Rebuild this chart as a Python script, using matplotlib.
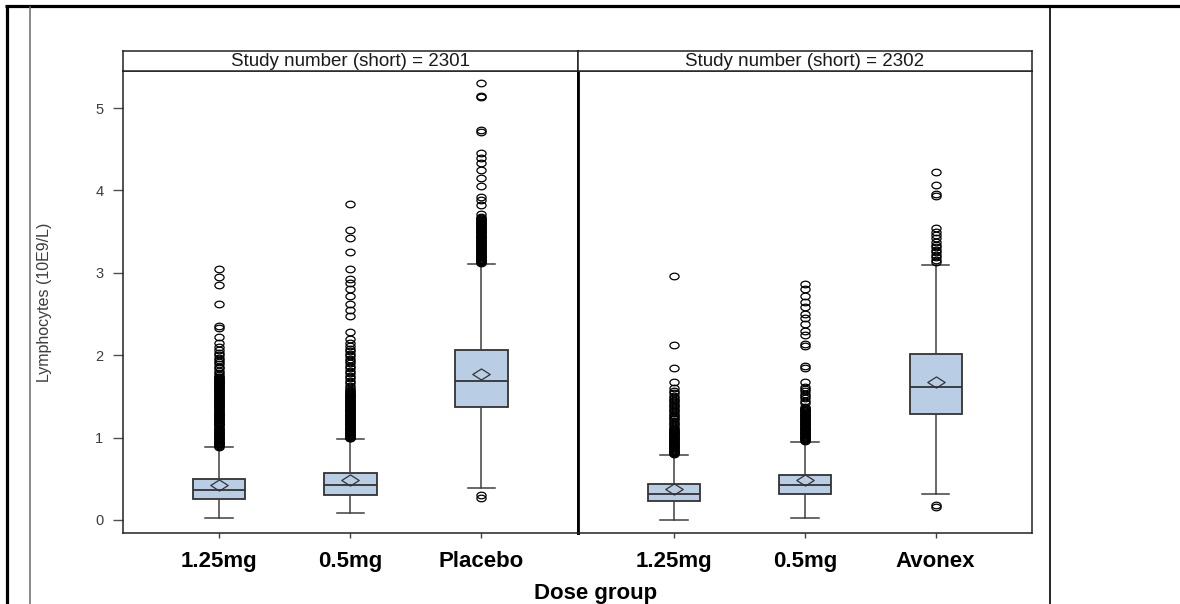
import matplotlib
matplotlib.use("Agg")
import matplotlib.pyplot as plt
from matplotlib.path import Path
from matplotlib.lines import Line2D
import numpy as np

plt.rcParams["font.family"] = ["Liberation Sans", "DejaVu Sans"]

# ---- data -------------------------------------------------------------
study_labels = ["Study number (short) = 2301", "Study number (short) = 2302"]
groups_2301 = ["1.25mg", "0.5mg", "Placebo"]
groups_2302 = ["1.25mg", "0.5mg", "Avonex"]

q1_2301 = [0.25, 0.30, 1.37]
med_2301 = [0.36, 0.42, 1.69]
q3_2301 = [0.50, 0.57, 2.06]
mean_2301 = [0.43, 0.48, 1.77]
whislo_2301 = [0.02, 0.08, 0.39]
whishi_2301 = [0.88, 0.98, 3.11]

q1_2302 = [0.23, 0.31, 1.29]
med_2302 = [0.32, 0.42, 1.62]
q3_2302 = [0.44, 0.55, 2.01]
mean_2302 = [0.38, 0.48, 1.67]
whislo_2302 = [0.00, 0.03, 0.32]
whishi_2302 = [0.79, 0.95, 3.09]

fliers_2301_125 = [
    3.05, 2.95, 2.85, 2.62, 2.35, 2.33, 2.22, 2.15, 2.10, 2.06,
    2.03, 2.00, 1.97, 1.94, 1.92, 1.89, 1.86, 1.84, 1.81, 1.78,
    1.76, 1.74, 1.73, 1.72, 1.71, 1.70, 1.69, 1.68, 1.67, 1.66,
    1.65, 1.64, 1.63, 1.62, 1.61, 1.60, 1.59, 1.58, 1.57, 1.56,
    1.55, 1.54, 1.53, 1.52, 1.51, 1.50, 1.49, 1.48, 1.47, 1.46,
    1.45, 1.44, 1.43, 1.42, 1.41, 1.40, 1.39, 1.38, 1.37, 1.36,
    1.35, 1.34, 1.32, 1.31, 1.30, 1.29, 1.28, 1.27, 1.26, 1.25,
    1.24, 1.23, 1.22, 1.21, 1.20, 1.19, 1.18, 1.17, 1.16, 1.15,
    1.14, 1.12, 1.11, 1.10, 1.09, 1.08, 1.07, 1.06, 1.05, 1.04,
    1.03, 1.02, 1.01, 1.00, 0.99, 0.98, 0.97, 0.96, 0.95, 0.94,
    0.93, 0.92, 0.91, 0.90, 0.89]
fliers_2301_05 = [
    3.83, 3.52, 3.42, 3.25, 3.05, 2.92, 2.88, 2.80, 2.72, 2.62,
    2.55, 2.48, 2.28, 2.20, 2.15, 2.11, 2.08, 2.05, 2.02, 1.99,
    1.96, 1.93, 1.90, 1.87, 1.84, 1.81, 1.78, 1.75, 1.72, 1.69,
    1.66, 1.63, 1.60, 1.58, 1.56, 1.55, 1.54, 1.53, 1.52, 1.51,
    1.50, 1.49, 1.48, 1.47, 1.46, 1.45, 1.44, 1.43, 1.42, 1.41,
    1.40, 1.39, 1.38, 1.37, 1.36, 1.35, 1.34, 1.33, 1.32, 1.31,
    1.30, 1.29, 1.28, 1.27, 1.26, 1.25, 1.24, 1.23, 1.22, 1.21,
    1.20, 1.19, 1.18, 1.17, 1.16, 1.15, 1.14, 1.13, 1.12, 1.11,
    1.10, 1.09, 1.08, 1.07, 1.06, 1.05, 1.04, 1.03, 1.02, 1.01,
    1.00, 0.99]
fliers_2301_pbo = [
    5.31, 5.15, 5.13, 4.73, 4.71, 4.45, 4.39, 4.33, 4.25, 4.15,
    4.05, 3.92, 3.88, 3.82, 3.72, 3.68, 3.66, 3.65, 3.64, 3.63,
    3.62, 3.61, 3.60, 3.59, 3.58, 3.57, 3.56, 3.55, 3.54, 3.53,
    3.52, 3.51, 3.50, 3.49, 3.48, 3.47, 3.46, 3.45, 3.44, 3.43,
    3.42, 3.41, 3.40, 3.39, 3.38, 3.37, 3.36, 3.35, 3.34, 3.33,
    3.32, 3.31, 3.30, 3.29, 3.28, 3.27, 3.26, 3.25, 3.24, 3.23,
    3.22, 3.21, 3.20, 3.19, 3.18, 3.17, 3.16, 3.15, 3.14, 3.13,
    3.12, 0.30, 0.27]
fliers_2302_125 = [
    2.96, 2.12, 1.85, 1.67, 1.60, 1.57, 1.54, 1.51, 1.48, 1.46,
    1.44, 1.42, 1.40, 1.38, 1.36, 1.34, 1.32, 1.30, 1.28, 1.26,
    1.24, 1.22, 1.20, 1.18, 1.16, 1.14, 1.12, 1.10, 1.09, 1.08,
    1.07, 1.06, 1.05, 1.04, 1.03, 1.02, 1.01, 1.00, 0.99, 0.98,
    0.97, 0.96, 0.95, 0.94, 0.93, 0.92, 0.91, 0.90, 0.89, 0.88,
    0.87, 0.86, 0.85, 0.84, 0.83, 0.82, 0.81, 0.80]
fliers_2302_05 = [
    2.87, 2.80, 2.72, 2.65, 2.58, 2.50, 2.45, 2.38, 2.30, 2.25,
    2.14, 2.11, 1.87, 1.84, 1.67, 1.62, 1.59, 1.56, 1.53, 1.50,
    1.48, 1.45, 1.42, 1.37, 1.36, 1.35, 1.34, 1.33, 1.32, 1.31,
    1.30, 1.29, 1.28, 1.27, 1.26, 1.25, 1.24, 1.23, 1.22, 1.21,
    1.20, 1.19, 1.18, 1.17, 1.16, 1.15, 1.14, 1.13, 1.12, 1.11,
    1.10, 1.09, 1.08, 1.07, 1.06, 1.05, 1.04, 1.03, 1.02, 1.01,
    1.00, 0.99, 0.98, 0.97, 0.96]
fliers_2302_avx = [
    4.22, 4.07, 3.96, 3.93, 3.54, 3.50, 3.46, 3.42, 3.38, 3.34,
    3.31, 3.28, 3.25, 3.22, 3.19, 3.16, 3.13, 0.18, 0.16]

yticks = [0, 1, 2, 3, 4, 5]

# ---- layout helpers ---------------------------------------------------
W, H = 1180, 604
fig = plt.figure(figsize=(W / 100, H / 100), dpi=100)
fig.patch.set_facecolor("white")


def px_axes(x0, y0, x1, y1):
    return fig.add_axes([x0 / W, 1 - y1 / H, (x1 - x0) / W, (y1 - y0) / H])


def px_line(xs, ys, **kw):
    fig.add_artist(Line2D([x / W for x in xs], [1 - y / H for y in ys],
                          transform=fig.transFigure, **kw))


# page frame lines
px_line([5, 1180], [6, 6], color="black", linewidth=2.3, solid_capstyle="butt")
px_line([6.5, 6.5], [5, 604], color="black", linewidth=2.3, solid_capstyle="butt")
px_line([30, 30], [7, 604], color="#6a6a6a", linewidth=1.1)
px_line([1050, 1050], [7, 604], color="black", linewidth=1.2)

# marker shapes
t = np.linspace(0, 2 * np.pi, 41)
oval = Path(np.column_stack([np.cos(t), 0.72 * np.sin(t)]), closed=True)
flat_diamond = Path([(-1, 0), (0, 0.64), (1, 0), (0, -0.64), (-1, 0)], closed=True)

box_fill = "#B9CDE5"
edge = "#333333"


def make_stats(q1, med, q3, mean, lo, hi, fliers):
    return [dict(q1=a, med=b, q3=c, mean=d, whislo=e, whishi=f, fliers=g)
            for a, b, c, d, e, f, g in zip(q1, med, q3, mean, lo, hi, fliers)]


panels = [
    (123, 578, groups_2301,
     make_stats(q1_2301, med_2301, q3_2301, mean_2301, whislo_2301, whishi_2301,
                [fliers_2301_125, fliers_2301_05, fliers_2301_pbo])),
    (578, 1032, groups_2302,
     make_stats(q1_2302, med_2302, q3_2302, mean_2302, whislo_2302, whishi_2302,
                [fliers_2302_125, fliers_2302_05, fliers_2302_avx])),
]

for i, (x0, x1, groups, stats) in enumerate(panels):
    ax = px_axes(x0, 71, x1, 533)
    pos = [1, 2, 3]
    ax.bxp(stats, positions=pos, widths=0.40, capwidths=0.21,
           patch_artist=True, showmeans=True, manage_ticks=False,
           boxprops=dict(facecolor=box_fill, edgecolor=edge, linewidth=1.3),
           medianprops=dict(color=edge, linewidth=1.3),
           whiskerprops=dict(color="#404040", linewidth=1.1),
           capprops=dict(color="#404040", linewidth=1.1),
           meanprops=dict(marker=flat_diamond, markersize=12.5,
                          markerfacecolor="none", markeredgecolor=edge,
                          markeredgewidth=0.9),
           flierprops=dict(marker=oval, markersize=6.6, markerfacecolor="none",
                           markeredgecolor="black", markeredgewidth=0.9,
                           linestyle="none"))
    ax.set_xlim(0.267, 3.736)
    ax.set_ylim(-0.158, 5.45)
    ax.set_xticks(pos)
    ax.set_xticklabels(groups, fontsize=16, fontweight="bold")
    ax.tick_params(axis="x", direction="out", length=3.8, width=1.0,
                   color="#404040", pad=9.5)
    for s in ax.spines.values():
        s.set_linewidth(1.1)
        s.set_color("#222222")
    if i == 0:
        ax.set_yticks(yticks)
        ax.set_yticklabels([str(v) for v in yticks], fontsize=10.5,
                           color="#3c3c3c")
        ax.tick_params(axis="y", direction="out", length=7.2, width=1.0,
                       color="#505050", pad=7)
        ax.spines["right"].set_linewidth(2.0)
        ax.spines["right"].set_color("black")
    else:
        ax.set_yticks([])
        ax.spines["left"].set_linewidth(2.0)
        ax.spines["left"].set_color("black")

    # strip header
    sx = px_axes(x0, 51, x1, 71)
    sx.set_xticks([])
    sx.set_yticks([])
    for s in sx.spines.values():
        s.set_linewidth(1.1)
        s.set_color("#222222")
    sx.text(0.5, 0.45, study_labels[i], ha="center", va="center",
            fontsize=13.5, color="#1a1a1a", transform=sx.transAxes)

fig.text(596 / W, 1 - 598.5 / H, "Dose group", ha="center", va="baseline",
         fontsize=16, fontweight="bold")
fig.text(45 / W, 1 - 302 / H, "Lymphocytes (10E9/L)", ha="center",
         va="center", rotation=90, fontsize=11.5, color="#3c3c3c")

fig.savefig("out.png", dpi=100, facecolor="white")
